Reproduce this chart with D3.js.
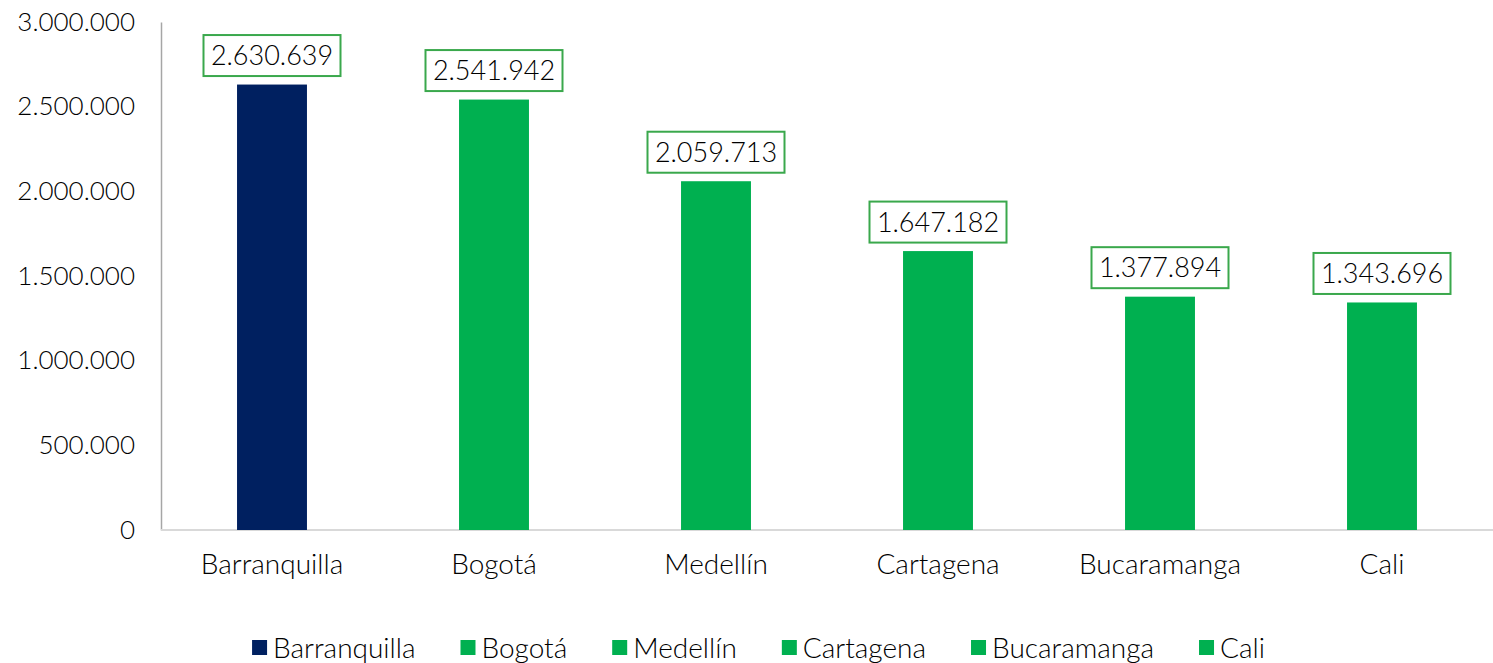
<!DOCTYPE html>
<html>
<head>
<meta charset="utf-8">
<script src="https://cdn.jsdelivr.net/npm/d3@7"></script>
<style>
  body { margin: 0; background: #fff; }
  text { font-family: Lato, "Open Sans", sans-serif; font-weight: 300; fill: #000; }
</style>
</head>
<body>
<svg id="chart"></svg>
<script>
// Data
const cities = ["Barranquilla", "Bogotá", "Medellín", "Cartagena", "Bucaramanga", "Cali"];
const values = [2630639, 2541942, 2059713, 1647182, 1377894, 1343696];
const barColors = ["#002060", "#00b050", "#00b050", "#00b050", "#00b050", "#00b050"];
const yTicks = [0, 500000, 1000000, 1500000, 2000000, 2500000, 3000000];

const width = 1493;
const height = 663;
const margin = { top: 22, right: 0, bottom: 133, left: 161 };

// Spanish style number format: 2.630.639
const fmt = d3.formatLocale({ decimal: ",", thousands: ".", grouping: [3], currency: ["", ""] }).format(",d");

const svg = d3.select("#chart")
    .attr("width", width)
    .attr("height", height);

const x = d3.scaleBand()
    .domain(cities)
    .range([margin.left, width - margin.right])
    .paddingInner(0.685)
    .paddingOuter(0.3425);

const y = d3.scaleLinear()
    .domain([0, 3000000])
    .range([height - margin.bottom, margin.top]);

// Y axis (labels only + line)
const yAxis = svg.append("g")
    .attr("transform", `translate(${margin.left},0)`)
    .call(d3.axisLeft(y).tickValues(yTicks).tickFormat(fmt).tickSize(0).tickPadding(26));
yAxis.select(".domain").attr("stroke", "#a6a6a6").attr("stroke-width", 1.5);
yAxis.selectAll("text").style("font-size", "26px").attr("font-family", null);

// baseline
svg.append("line")
    .attr("x1", margin.left)
    .attr("x2", width - margin.right)
    .attr("y1", y(0))
    .attr("y2", y(0))
    .attr("stroke", "#d9d9d9")
    .attr("stroke-width", 2);

// X axis labels
const xAxis = svg.append("g")
    .attr("transform", `translate(0,${y(0)})`)
    .call(d3.axisBottom(x).tickSize(0).tickPadding(24));
xAxis.select(".domain").remove();
xAxis.selectAll("text").style("font-size", "28px").attr("font-family", null);

// Bars
svg.selectAll("rect.bar")
    .data(values)
    .enter()
    .append("rect")
    .attr("class", "bar")
    .attr("x", (d, i) => x(cities[i]))
    .attr("y", d => y(d))
    .attr("width", x.bandwidth())
    .attr("height", d => y(0) - y(d))
    .attr("fill", (d, i) => barColors[i]);

// Value labels in boxes
const labels = svg.selectAll("g.label")
    .data(values)
    .enter()
    .append("g")
    .attr("class", "label")
    .attr("transform", (d, i) => `translate(${x(cities[i]) + x.bandwidth() / 2},${y(d) - 29})`);

labels.append("rect")
    .attr("x", -68.5)
    .attr("y", -20.5)
    .attr("width", 137)
    .attr("height", 41)
    .attr("fill", "#fff")
    .attr("stroke", "#3aa84c")
    .attr("stroke-width", 2);

labels.append("text")
    .attr("text-anchor", "middle")
    .attr("dy", "0.35em")
    .style("font-size", "27px")
    .text(d => fmt(d));

// Legend
const legend = svg.append("g").attr("transform", `translate(0,648)`);
const items = legend.selectAll("g")
    .data(cities)
    .enter()
    .append("g");
items.append("rect")
    .attr("y", -8)
    .attr("width", 15)
    .attr("height", 15)
    .attr("fill", (d, i) => barColors[i]);
items.append("text")
    .attr("x", 21)
    .attr("dy", "0.35em")
    .style("font-size", "28px")
    .text(d => d);

// place legend items side by side, centred
const gap = 45;
let pos = 0;
const offsets = [];
items.each(function() {
    offsets.push(pos);
    const w = d3.select(this).select("text").node().getComputedTextLength();
    pos += 21 + w + gap;
});
const total = pos - gap;
const start = (width - total) / 2 + 12;
items.attr("transform", (d, i) => `translate(${start + offsets[i]},0)`);
</script>
</body>
</html>
